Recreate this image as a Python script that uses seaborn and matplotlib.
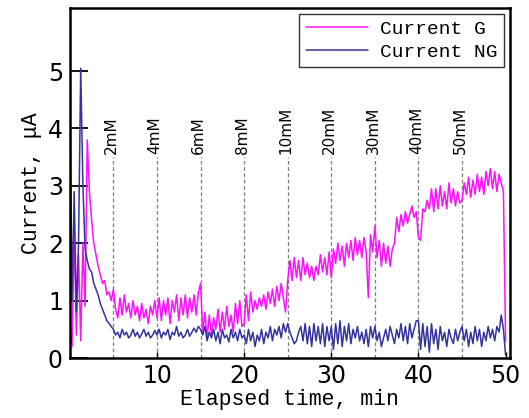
import numpy as np
import pandas as pd
import matplotlib
matplotlib.use("Agg")
import matplotlib.pyplot as plt
import seaborn as sns

# Valores, un punto cada 0.25 min (0 .. 50 min)
current_g = [
    # 0-5 min
    0.6, 0.2, 2.2, 0.4, 1.8, 0.3, 2.0, 0.9, 3.8, 2.9, 2.4, 2.0, 1.8, 1.6, 1.45, 1.3, 1.35, 1.1, 1.15, 1.0,
    # 5-10
    1.2, 0.85, 0.7, 1.05, 0.75, 1.1, 0.8, 0.95, 0.7, 1.0, 0.75, 0.9, 0.65, 0.95, 0.7, 0.85, 0.6, 0.9, 0.75, 1.0,
    # 10-15
    0.7, 1.05, 0.65, 1.0, 0.75, 1.05, 0.6, 1.0, 0.8, 1.1, 0.65, 1.05, 0.75, 1.1, 0.7, 1.05, 0.8, 1.1, 0.75, 1.15,
    # 15-20
    1.3, 0.45, 0.8, 0.35, 0.75, 0.4, 0.7, 0.5, 0.85, 0.45, 0.8, 0.5, 0.9, 0.55, 0.75, 0.45, 0.95, 0.6, 1.0, 0.55,
    # 20-25
    0.6, 1.1, 0.65, 1.15, 0.8, 1.0, 0.85, 1.05, 0.9, 1.1, 0.85, 1.15, 0.95, 1.2, 0.9, 1.25, 1.0, 1.3, 1.05, 0.8,
    # 25-30
    1.35, 1.7, 1.35, 1.75, 1.4, 1.7, 1.35, 1.75, 1.45, 1.65, 1.4, 1.6, 1.35, 1.6, 1.45, 1.8, 1.5, 1.75, 1.45, 1.85,
    # 30-35
    1.4, 1.9, 1.65, 2.0, 1.7, 1.95, 1.6, 2.0, 1.75, 2.05, 1.7, 2.1, 1.8, 2.05, 1.75, 2.1, 1.85, 1.05, 2.15, 1.85,
    # 35-40
    2.3, 1.75, 2.05, 1.6, 2.0, 1.65, 1.95, 1.6, 1.9, 2.0, 2.45, 2.2, 2.5, 2.3, 2.55, 2.35, 2.5, 2.65, 2.45, 2.55,
    # 40-45
    2.1, 2.05, 2.6, 2.55, 2.75, 2.6, 2.95, 2.55, 2.95, 2.6, 3.0, 2.65, 2.9, 2.6, 3.05, 2.7, 2.95, 2.65, 2.9, 2.7,
    # 45-50
    2.75, 3.05, 2.85, 3.15, 2.8, 3.1, 2.85, 3.2, 2.9, 3.15, 2.85, 3.25, 3.0, 3.3, 2.95, 3.25, 2.9, 3.2, 3.05, 2.9,
    0.3,
]

current_ng = [
    # 0-5 min
    4.85, 1.0, 2.9, 0.8, 2.0, 5.05, 3.0, 1.9, 1.7, 1.55, 1.5, 1.3, 1.2, 1.1, 0.95, 0.85, 0.75, 0.65, 0.6, 0.55,
    # 5-10
    0.5, 0.4, 0.45, 0.35, 0.5, 0.4, 0.45, 0.35, 0.4, 0.5, 0.38, 0.45, 0.35, 0.42, 0.5, 0.38, 0.45, 0.35, 0.4, 0.48,
    # 10-15
    0.4, 0.5, 0.35, 0.45, 0.4, 0.5, 0.32, 0.45, 0.4, 0.55, 0.38, 0.45, 0.35, 0.4, 0.5, 0.38, 0.45, 0.52, 0.45, 0.55,
    # 15-20
    0.5, 0.4, 0.55, 0.3, 0.45, 0.35, 0.5, 0.3, 0.45, 0.25, 0.5, 0.35, 0.4, 0.28, 0.5, 0.35, 0.45, 0.3, 0.5, 0.35,
    # 20-25
    0.4, 0.25, 0.5, 0.3, 0.45, 0.2, 0.4, 0.3, 0.5, 0.25, 0.45, 0.35, 0.55, 0.3, 0.5, 0.4, 0.55, 0.35, 0.6, 0.45,
    # 25-30
    0.6, 0.45, 0.35, 0.25, 0.3, 0.45, 0.55, 0.3, 0.6, 0.25, 0.55, 0.2, 0.6, 0.3, 0.55, 0.25, 0.6, 0.2, 0.55, 0.3,
    # 30-35
    0.55, 0.15, 0.6, 0.25, 0.65, 0.2, 0.55, 0.3, 0.6, 0.25, 0.5, 0.35, 0.55, 0.3, 0.45, 0.25, 0.5, 0.2, 0.55, 0.35,
    # 35-40
    0.55, 0.3, 0.45, 0.2, 0.35, 0.5, 0.3, 0.55, 0.4, 0.25, 0.5, 0.35, 0.6, 0.3, 0.55, 0.25, 0.6, 0.35, 0.5, 0.65,
    # 40-45
    0.65, 0.15, 0.6, 0.2, 0.55, 0.1, 0.6, 0.25, 0.5, 0.15, 0.55, 0.3, 0.45, 0.2, 0.5, 0.35, 0.25, 0.5, 0.3, 0.45,
    # 45-50
    0.55, 0.3, 0.5, 0.2, 0.45, 0.25, 0.55, 0.3, 0.5, 0.2, 0.45, 0.3, 0.55, 0.35, 0.5, 0.3, 0.55, 0.45, 0.75, 0.5,
    0.05,
]

# momentos en los que se añade la concentración (min) y sus etiquetas
marker_times = [5, 10, 15, 20, 25, 30, 35, 40, 45]
marker_labels = ["2mM", "4mM", "6mM", "8mM", "10mM", "20mM", "30mM", "40mM", "50mM"]

time_min = np.linspace(0, 50, len(current_g))

df = pd.concat([
    pd.DataFrame({"t": time_min, "I": current_g, "serie": "Current G"}),
    pd.DataFrame({"t": time_min, "I": current_ng, "serie": "Current NG"}),
])

sns.set_style("white")
plt.rcParams.update({"text.color": "black", "axes.labelcolor": "black",
                     "xtick.color": "black", "ytick.color": "black"})
mono = ["Liberation Mono", "DejaVu Sans Mono"]
narrow = ["Liberation Sans Narrow", "DejaVu Sans"]

fig = plt.figure(figsize=(5.29, 4.18), dpi=100)
ax = fig.add_axes([0.132, 0.1435, 0.832, 0.8375])

sns.lineplot(data=df, x="t", y="I", hue="serie", estimator=None, sort=False,
             palette={"Current G": "#ff10ff", "Current NG": "#34349c"},
             linewidth=1.1, ax=ax)

# líneas discontinuas de cada adición
for t, lab in zip(marker_times, marker_labels):
    ax.plot([t, t], [0, 3.5], color="#7f7f7f", linestyle=(0, (3, 2)), linewidth=0.9, zorder=0)
    ax.text(t - 0.2, 3.55, lab, rotation=90, ha="center", va="bottom",
            fontsize=11, family=narrow, color="black")

ax.set_xlim(0, 50.5)
ax.set_ylim(0, 6.1)
ax.set_xticks([10, 20, 30, 40, 50])
ax.set_yticks([0, 1, 2, 3, 4, 5])
ax.tick_params(axis="y", direction="in", length=13, width=1.3, pad=5, left=True, colors="black")
ax.tick_params(axis="x", direction="in", length=4, width=1.0, pad=4, bottom=True, colors="black")
for lab in ax.get_xticklabels() + ax.get_yticklabels():
    lab.set_family(narrow)
    lab.set_fontsize(17)
    lab.set_color("black")

for s in ax.spines.values():
    s.set_color("black")
    s.set_linewidth(1.8)

ax.set_xlabel("Elapsed time, min", family=mono, fontsize=15.5, labelpad=1, color="black")
ax.set_ylabel("Current, μA", family=mono, fontsize=15.5, labelpad=4, color="black")

sns.move_legend(ax, "upper right", title=None, frameon=True, fancybox=False,
                prop={"family": mono, "size": 14}, handlelength=3.2,
                handletextpad=0.6, borderpad=0.35, labelspacing=0.25,
                borderaxespad=0.3)
leg = ax.get_legend()
leg.get_frame().set_edgecolor("black")
leg.get_frame().set_linewidth(1.0)
for txt in leg.get_texts():
    txt.set_color("black")

fig.savefig("out.png", dpi=100)
